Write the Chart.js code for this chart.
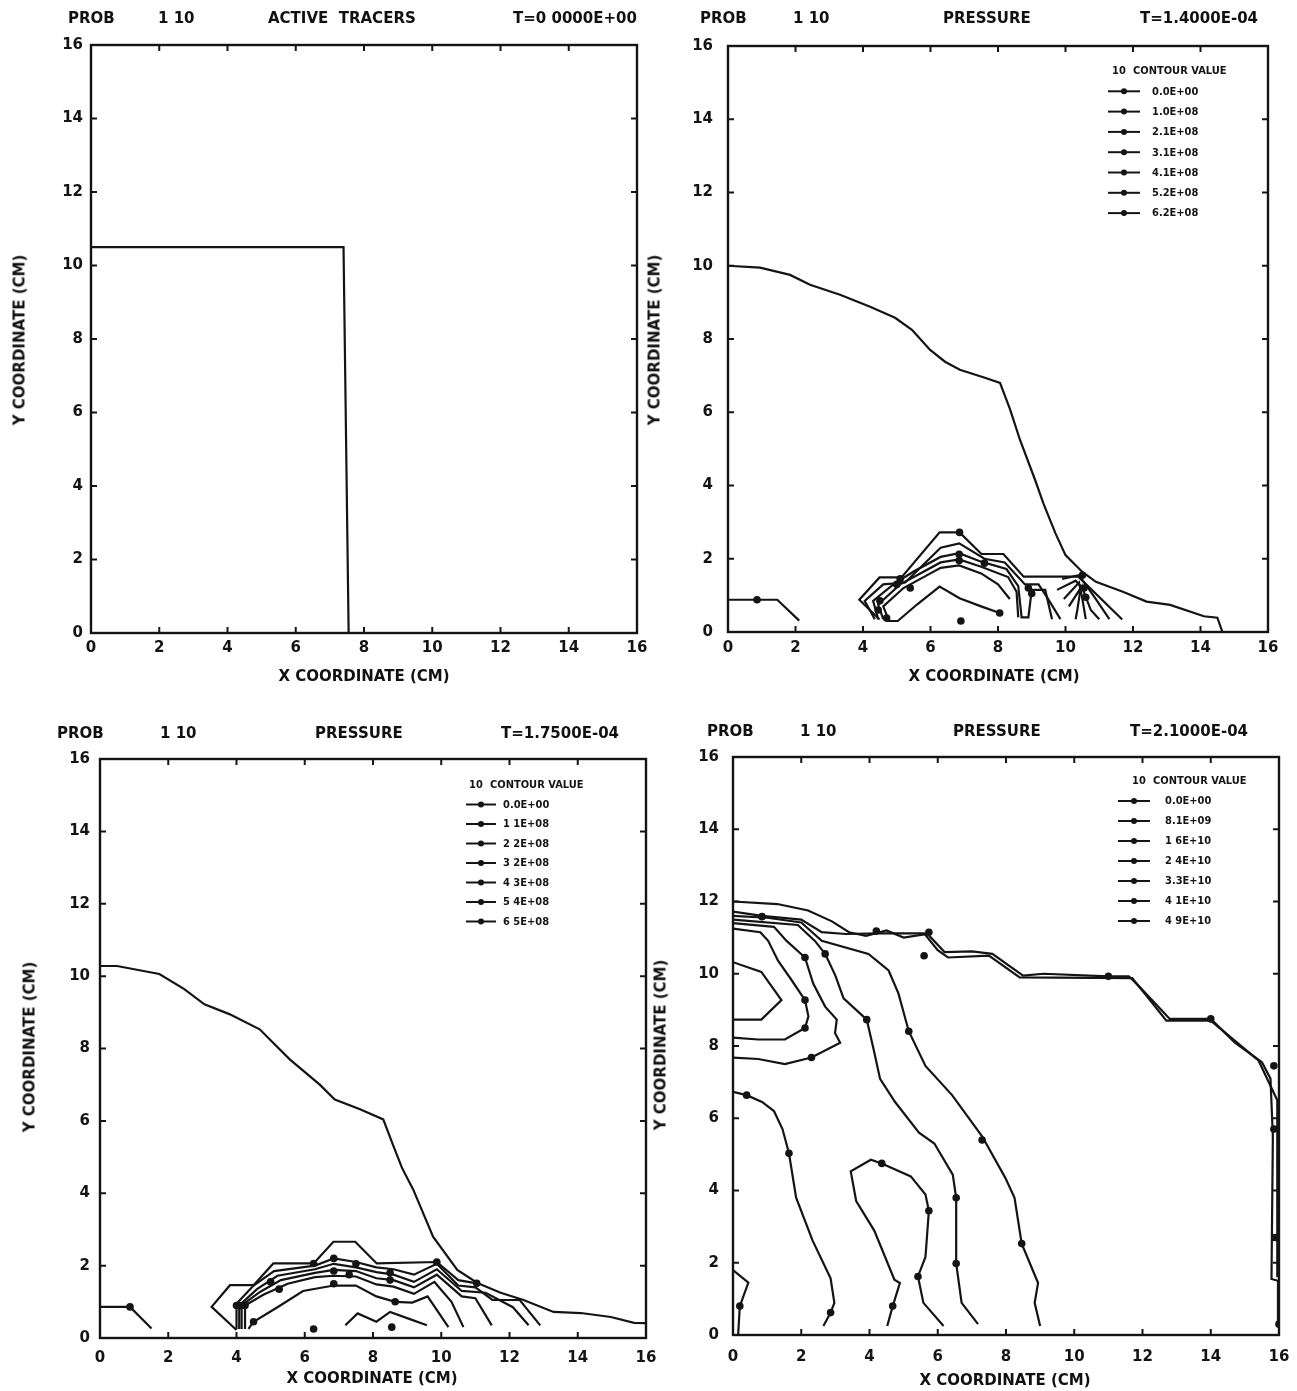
<!DOCTYPE html>
<html>
<head>
<meta charset="utf-8">
<script src="https://cdn.jsdelivr.net/npm/chart.js@4.4.1/dist/chart.umd.min.js"></script>
<style>
  body { margin: 0; background: #fff; }
  #page { position: relative; width: 1297px; height: 1391px; background: #fff; overflow: hidden;
          font-family: "DejaVu Sans", sans-serif; font-weight: bold; color: #111; }
  canvas { position: absolute; }
  .t  { position: absolute; white-space: pre; font-size: 15px; line-height: 1; transform: translateY(-50%); }
  .ax { position: absolute; white-space: pre; font-size: 15px; line-height: 1; transform: translate(-50%, -50%); }
  .ay { position: absolute; white-space: pre; font-size: 15px; line-height: 1; transform: translate(-50%, -50%) rotate(-90deg); }
</style>
</head>
<body>
<div id="page">
  <canvas id="c1" width="648" height="700" style="left:0;top:0"></canvas>
  <canvas id="c2" width="649" height="700" style="left:648px;top:0"></canvas>
  <canvas id="c3" width="670" height="691" style="left:0;top:700px"></canvas>
  <canvas id="c4" width="649" height="691" style="left:648px;top:700px"></canvas>
</div>
<script>
// ---- axis values ----
const axisMin = 0;
const axisMax = 16;
const axisStep = 2;

// ---- panel headers / legends ----
const headerTexts = [
  ["PROB", "1 10", "ACTIVE  TRACERS", "T=0 0000E+00"],
  ["PROB", "1 10", "PRESSURE", "T=1.4000E-04"],
  ["PROB", "1 10", "PRESSURE", "T=1.7500E-04"],
  ["PROB", "1 10", "PRESSURE", "T=2.1000E-04"]
];
const xTitle = "X COORDINATE (CM)";
const yTitle = "Y COORDINATE (CM)";
const legendHead = ["10", "CONTOUR VALUE"];
const p2Levels = ["0.0E+00", "1.0E+08", "2.1E+08", "3.1E+08", "4.1E+08", "5.2E+08", "6.2E+08"];
const p3Levels = ["0.0E+00", "1 1E+08", "2 2E+08", "3 2E+08", "4 3E+08", "5 4E+08", "6 5E+08"];
const p4Levels = ["0.0E+00", "8.1E+09", "1 6E+10", "2 4E+10", "3.3E+10", "4 1E+10", "4 9E+10"];

// ---- panel 1: active tracers ----
const p1Tracer = [[0, 10.5], [7.4, 10.5], [7.55, 0]];

// ---- panel 2: pressure T=1.4E-04 ----
const p2ContourA = [[0, 10.0], [0.95, 9.95], [1.84, 9.75], [2.43, 9.48], [3.32, 9.21], [4.21, 8.88], [4.95, 8.58],
  [5.45, 8.25], [5.99, 7.7], [6.43, 7.38], [6.87, 7.16], [7.61, 6.94], [8.06, 6.8], [8.36, 6.07], [8.65, 5.25],
  [9.1, 4.15], [9.35, 3.5], [9.7, 2.7], [10.0, 2.1], [10.5, 1.64], [10.9, 1.37], [11.7, 1.1], [12.4, 0.83],
  [13.1, 0.74], [14.1, 0.43], [14.5, 0.39], [14.65, 0]];
const p2ContourA2 = [[0, 0.88], [0.86, 0.88], [1.46, 0.88], [2.11, 0.31]];
const p2Outer = [[4.49, 0.34], [3.89, 0.88], [4.49, 1.49], [5.14, 1.49], [6.27, 2.72], [6.86, 2.72], [7.51, 2.13],
  [8.16, 2.13], [8.76, 1.51], [10.38, 1.51], [11.68, 0.34]];
const p2H1 = [[4.35, 0.35], [4.05, 0.85], [4.6, 1.3], [5.25, 1.35], [6.3, 2.3], [6.85, 2.42], [7.6, 2.0], [8.2, 1.9],
  [8.8, 1.3], [9.2, 1.3], [9.45, 0.95], [9.85, 0.35]];
const p2H2 = [[4.45, 0.35], [4.3, 0.85], [4.9, 1.3], [5.5, 1.65], [6.3, 2.05], [6.85, 2.15], [7.5, 1.92], [8.25, 1.72],
  [8.6, 1.25], [8.7, 0.4], [8.9, 0.4], [9.0, 1.15], [9.4, 1.15], [9.6, 0.35]];
const p2H3 = [[4.6, 0.35], [4.45, 0.75], [5.1, 1.3], [5.6, 1.55], [6.3, 1.9], [6.85, 1.98], [7.5, 1.78], [8.3, 1.5],
  [8.55, 1.1], [8.6, 0.4]];
const p2H4 = [[4.75, 0.35], [4.6, 0.7], [5.2, 1.2], [5.7, 1.45], [6.3, 1.75], [6.85, 1.82], [7.5, 1.6], [8.0, 1.3], [8.35, 0.9]];
const p2F = [[4.7, 0.3], [5.03, 0.3], [5.6, 0.75], [6.27, 1.24], [6.86, 0.92], [7.5, 0.7], [8.05, 0.52]];
const p2R1 = [[9.9, 1.45], [10.4, 1.55], [10.9, 0.9], [11.3, 0.35]];
const p2R2 = [[9.75, 1.15], [10.3, 1.4], [10.5, 1.2], [10.75, 0.6], [11.0, 0.35]];
const p2R3 = [[9.95, 0.9], [10.4, 1.35], [10.5, 0.9], [10.6, 0.35]];
const p2R4 = [[10.1, 0.7], [10.45, 1.2], [10.35, 0.6], [10.3, 0.35]];
const p2Marks = [[0.86, 0.88], [6.86, 2.72], [6.85, 2.12], [6.85, 1.95], [7.6, 1.88], [5.1, 1.45], [5.0, 1.3],
  [5.4, 1.2], [4.5, 0.85], [4.45, 0.6], [4.7, 0.38], [8.9, 1.2], [9.0, 1.05], [10.5, 1.55], [10.55, 1.2],
  [10.6, 0.95], [6.9, 0.3], [8.05, 0.52]];

// ---- panel 3: pressure T=1.75E-04 ----
const p3ContourA = [[0, 10.28], [0.5, 10.28], [1.74, 10.06], [2.47, 9.64], [3.06, 9.22], [3.79, 8.95], [4.68, 8.53],
  [5.56, 7.7], [6.44, 7.0], [6.88, 6.59], [7.62, 6.32], [8.3, 6.04], [8.6, 5.3], [8.85, 4.7], [9.18, 4.1],
  [9.76, 2.8], [10.47, 1.88], [11.06, 1.52], [11.74, 1.25], [12.41, 1.05], [13.29, 0.72], [14.09, 0.69],
  [14.97, 0.58], [15.65, 0.42], [16, 0.41]];
const p3ContourA2 = [[0, 0.86], [0.88, 0.86], [1.51, 0.26]];
const p3Outer = [[4.0, 0.22], [3.27, 0.86], [3.81, 1.46], [4.5, 1.46], [5.08, 2.06], [6.26, 2.06], [6.84, 2.66],
  [7.48, 2.66], [8.11, 2.06], [9.87, 2.1], [10.5, 1.6], [11.04, 1.51]];
const p3B = [[4.0, 0.25], [4.0, 0.95], [4.5, 1.45], [5.1, 1.85], [6.3, 2.0], [6.85, 2.2], [7.5, 2.1], [8.1, 1.95],
  [8.6, 1.9], [9.2, 1.75], [9.87, 2.05], [10.5, 1.45], [11.0, 1.4], [11.5, 1.05], [12.3, 1.05], [12.9, 0.35]];
const p3C = [[4.08, 0.25], [4.08, 0.9], [4.6, 1.35], [5.2, 1.72], [6.3, 1.9], [6.85, 2.05], [7.5, 1.95], [8.1, 1.82],
  [8.6, 1.75], [9.2, 1.55], [9.87, 1.9], [10.6, 1.3], [11.3, 1.25], [12.1, 0.85], [12.56, 0.35]];
const p3D = [[4.15, 0.25], [4.15, 0.9], [4.7, 1.28], [5.3, 1.6], [6.3, 1.8], [6.85, 1.88], [7.5, 1.85], [8.1, 1.65],
  [8.6, 1.6], [9.2, 1.4], [9.87, 1.75], [10.6, 1.15], [11.0, 1.1], [11.48, 0.35]];
const p3E = [[4.25, 0.25], [4.25, 0.9], [4.8, 1.2], [5.5, 1.5], [6.3, 1.68], [6.85, 1.72], [7.5, 1.7], [8.1, 1.48],
  [8.6, 1.42], [9.2, 1.22], [9.8, 1.55], [10.3, 1.0], [10.65, 0.3]];
const p3F = [[4.35, 0.25], [4.5, 0.45], [5.2, 0.85], [5.95, 1.3], [6.85, 1.45], [7.5, 1.45], [8.1, 1.15], [8.65, 1.0],
  [9.15, 0.98], [9.6, 1.15], [10.21, 0.3]];
const p3G = [[7.19, 0.35], [7.55, 0.68], [8.1, 0.45], [8.5, 0.72], [9.0, 0.55], [9.58, 0.35]];
const p3Marks = [[0.88, 0.86], [4.0, 0.9], [4.12, 0.9], [4.25, 0.9], [4.5, 0.45], [5.0, 1.55], [5.25, 1.35],
  [6.26, 2.06], [6.85, 2.2], [6.85, 1.85], [6.85, 1.5], [7.5, 2.05], [7.3, 1.75], [8.5, 1.8], [8.5, 1.6],
  [8.65, 1.0], [9.87, 2.1], [11.04, 1.51], [6.26, 0.25], [8.55, 0.3]];

// ---- panel 4: pressure T=2.1E-04 ----
const p4A = [[0, 12.0], [1.3, 11.93], [2.2, 11.75], [2.9, 11.45], [3.4, 11.15], [3.9, 11.05], [4.5, 11.2], [5.0, 11.0],
  [5.7, 11.1], [6.2, 10.6], [7.0, 10.62], [7.6, 10.55], [8.5, 9.95], [9.1, 10.0], [11.0, 9.93], [11.6, 9.93],
  [11.9, 9.65], [12.8, 8.75], [14.0, 8.75], [14.7, 8.1], [15.5, 7.55], [15.75, 7.1], [15.82, 5.5], [15.78, 1.55],
  [15.97, 1.5], [15.97, 0.3]];
const p4B = [[0, 11.72], [0.85, 11.6], [2.0, 11.5], [2.6, 11.15], [3.3, 11.1], [4.3, 11.12], [5.6, 11.12], [6.0, 10.65],
  [6.3, 10.45], [7.5, 10.5], [8.4, 9.9], [11.7, 9.88], [12.7, 8.7], [14.0, 8.7], [15.4, 7.6], [15.95, 6.5], [15.95, 1.6]];
const p4D = [[0, 11.6], [1.0, 11.55], [2.0, 11.42], [2.6, 10.91], [3.97, 10.55], [4.56, 10.09], [4.85, 9.45],
  [5.15, 8.41], [5.64, 7.45], [6.42, 6.64], [7.3, 5.5], [7.98, 4.35], [8.25, 3.8], [8.46, 2.53], [8.94, 1.44],
  [8.84, 0.89], [9.0, 0.25]];
const p4C = [[0, 11.5], [1.9, 11.35], [2.4, 10.91], [2.7, 10.55], [3.0, 9.95], [3.24, 9.32], [3.92, 8.73],
  [4.12, 7.91], [4.31, 7.09], [4.75, 6.45], [5.45, 5.6], [5.9, 5.3], [6.44, 4.44], [6.54, 3.8], [6.54, 1.98],
  [6.7, 0.89], [7.18, 0.3]];
const p4Loop2 = [[0, 11.4], [1.2, 11.3], [1.57, 10.91], [2.11, 10.45], [2.35, 9.73], [2.7, 9.09], [3.04, 8.73],
  [2.99, 8.36], [3.14, 8.09], [2.3, 7.68], [1.52, 7.5], [0.74, 7.64], [0, 7.68]];
const p4Loop1 = [[0, 11.25], [0.8, 11.15], [1.03, 10.91], [1.32, 10.36], [1.72, 9.82], [2.11, 9.27], [2.21, 8.82],
  [2.11, 8.5], [1.52, 8.18], [0.74, 8.18], [0, 8.23]];
const p4Inner = [[0, 10.32], [0.83, 10.05], [1.42, 9.27], [0.83, 8.73], [0, 8.73]];
const p4G = [[0, 6.73], [0.4, 6.64], [0.85, 6.45], [1.2, 6.2], [1.45, 5.7], [1.64, 5.03], [1.85, 3.8], [2.33, 2.62],
  [2.86, 1.57], [2.97, 0.89], [2.86, 0.62], [2.65, 0.25]];
const p4Loop3 = [[4.52, 0.25], [4.68, 0.8], [4.89, 1.44], [4.73, 1.53], [4.14, 2.89], [3.61, 3.71], [3.45, 4.53],
  [4.04, 4.85], [4.36, 4.75], [5.21, 4.39], [5.64, 3.89], [5.74, 3.44], [5.64, 2.16], [5.42, 1.62], [5.58, 0.89],
  [6.17, 0.25]];
const p4Corner = [[0, 1.8], [0.45, 1.45], [0.2, 0.8], [0.15, 0]];
const p4Marks = [[0.85, 11.58], [4.2, 11.18], [5.74, 11.15], [5.6, 10.5], [11.0, 9.93], [14.0, 8.75], [15.85, 7.45],
  [15.85, 5.7], [15.88, 2.7], [16.0, 0.3], [2.11, 10.45], [2.7, 10.55], [2.11, 9.27], [2.11, 8.5], [2.3, 7.68],
  [3.92, 8.73], [5.15, 8.41], [0.4, 6.64], [1.64, 5.03], [7.3, 5.4], [4.36, 4.75], [5.74, 3.44], [6.54, 3.8],
  [6.54, 1.98], [5.42, 1.62], [4.68, 0.8], [8.46, 2.53], [2.86, 0.62], [0.2, 0.8]];

// ---- layout (page pixels) ----
const layout = [
  { id: 'c1', left: 0, top: 0, pad: { left: 0, top: 45, right: 11, bottom: 0 }, yW: 91, xH: 67, yPad: 8, xPad: 6,
    head: [68, 158, 268, 513], headY: 18, xT: [364, 676], yT: [20, 340] },
  { id: 'c2', left: 648, top: 0, pad: { left: 0, top: 46, right: 29, bottom: 0 }, yW: 80, xH: 68, yPad: 15, xPad: 7,
    head: [700, 793, 943, 1140], headY: 18, xT: [994, 676], yT: [655, 340],
    leg: { y0: 71, dy: 20.3, hx: [464, 485], lx: [460, 492], tx: 504 } },
  { id: 'c3', left: 0, top: 700, pad: { left: 0, top: 59, right: 24, bottom: 0 }, yW: 100, xH: 53, yPad: 10, xPad: 11,
    head: [57, 160, 315, 501], headY: 733, xT: [372, 1378], yT: [30, 1047],
    leg: { y0: 85, dy: 19.5, hx: [469, 490], lx: [466, 496], tx: 503 } },
  { id: 'c4', left: 648, top: 700, pad: { left: 0, top: 57, right: 18, bottom: 0 }, yW: 85, xH: 56, yPad: 14, xPad: 13,
    head: [707, 800, 953, 1130], headY: 731, xT: [1005, 1380], yT: [661, 1045],
    leg: { y0: 81, dy: 20, hx: [484, 505], lx: [470, 502], tx: 517 } }
];

const panelLines = [
  [p1Tracer],
  [p2ContourA, p2ContourA2, p2Outer, p2H1, p2H2, p2H3, p2H4, p2F, p2R1, p2R2, p2R3, p2R4],
  [p3ContourA, p3ContourA2, p3Outer, p3B, p3C, p3D, p3E, p3F, p3G],
  [p4A, p4B, p4D, p4C, p4Loop2, p4Loop1, p4Inner, p4G, p4Loop3, p4Corner]
];
const panelMarks = [[], p2Marks, p3Marks, p4Marks];
const panelLevels = [null, p2Levels, p3Levels, p4Levels];

const INK = '#141414';
const page = document.getElementById('page');

function addText(cls, txt, x, y) {
  const d = document.createElement('div');
  d.className = cls;
  d.textContent = txt;
  d.style.left = x + 'px';
  d.style.top = y + 'px';
  page.appendChild(d);
}

// frame, inward tick marks and contour legend (canvases stay transparent so they can overlap)
const framePlugin = {
  id: 'frame',
  afterDraw(chart, args, opts) {
    const { ctx: c, chartArea: a, scales } = chart;
    c.save();
    c.strokeStyle = INK;
    c.lineWidth = 2.4;
    c.strokeRect(a.left, a.top, a.right - a.left, a.bottom - a.top);
    c.lineWidth = 2;
    const len = 6;
    for (let v = axisMin + axisStep; v < axisMax; v += axisStep) {
      const px = scales.x.getPixelForValue(v);
      const py = scales.y.getPixelForValue(v);
      c.beginPath();
      c.moveTo(px, a.bottom); c.lineTo(px, a.bottom - len);
      c.moveTo(px, a.top); c.lineTo(px, a.top + len);
      c.moveTo(a.left, py); c.lineTo(a.left + len, py);
      c.moveTo(a.right, py); c.lineTo(a.right - len, py);
      c.stroke();
    }
    const leg = opts.leg;
    if (leg && opts.levels) {
      c.fillStyle = INK;
      c.font = 'bold 11px "DejaVu Sans Condensed", "DejaVu Sans", sans-serif';
      c.textBaseline = 'middle';
      c.fillText(legendHead[0], leg.hx[0], leg.y0);
      c.fillText(legendHead[1], leg.hx[1], leg.y0);
      opts.levels.forEach((lab, i) => {
        const y = leg.y0 + leg.dy * (i + 1);
        c.lineWidth = 2;
        c.beginPath();
        c.moveTo(leg.lx[0], y); c.lineTo(leg.lx[1], y);
        c.stroke();
        c.beginPath();
        c.arc((leg.lx[0] + leg.lx[1]) / 2, y, 3, 0, Math.PI * 2);
        c.fill();
        c.fillText(lab, leg.tx, y + 0.5);
      });
    }
    c.restore();
  }
};

layout.forEach((L, k) => {
  // header and axis titles as page text
  headerTexts[k].forEach((txt, j) => addText('t', txt, L.head[j], L.headY));
  addText('ax', xTitle, L.xT[0], L.xT[1]);
  addText('ay', yTitle, L.yT[0], L.yT[1]);

  const datasets = panelLines[k].map(pts => ({
    data: pts.map(([x, y]) => ({ x, y })),
    showLine: true,
    borderColor: INK,
    borderWidth: 2.2,
    pointRadius: 0,
    fill: false,
    tension: 0
  }));
  if (panelMarks[k].length) {
    datasets.push({
      data: panelMarks[k].map(([x, y]) => ({ x, y })),
      showLine: false,
      pointRadius: 3.8,
      pointBackgroundColor: INK,
      pointBorderWidth: 0
    });
  }

  const tickFont = { family: '"DejaVu Sans", sans-serif', weight: 'bold', size: 15 };
  new Chart(document.getElementById(L.id), {
    type: 'scatter',
    data: { datasets },
    options: {
      responsive: false,
      animation: false,
      events: [],
      layout: { padding: L.pad },
      plugins: {
        legend: { display: false },
        tooltip: { enabled: false },
        frame: { leg: L.leg, levels: panelLevels[k] }
      },
      scales: {
        x: {
          type: 'linear', min: axisMin, max: axisMax,
          grid: { display: false, drawTicks: false },
          border: { display: false },
          ticks: { stepSize: axisStep, color: INK, font: tickFont, padding: L.xPad, maxRotation: 0 },
          afterFit(s) { s.height = L.xH; s.paddingLeft = 0; s.paddingRight = 0; }
        },
        y: {
          type: 'linear', min: axisMin, max: axisMax,
          grid: { display: false, drawTicks: false },
          border: { display: false },
          ticks: { stepSize: axisStep, color: INK, font: tickFont, padding: L.yPad },
          afterFit(s) { s.width = L.yW; s.paddingTop = 0; s.paddingBottom = 0; }
        }
      }
    },
    plugins: [framePlugin]
  });
});
</script>
</body>
</html>
